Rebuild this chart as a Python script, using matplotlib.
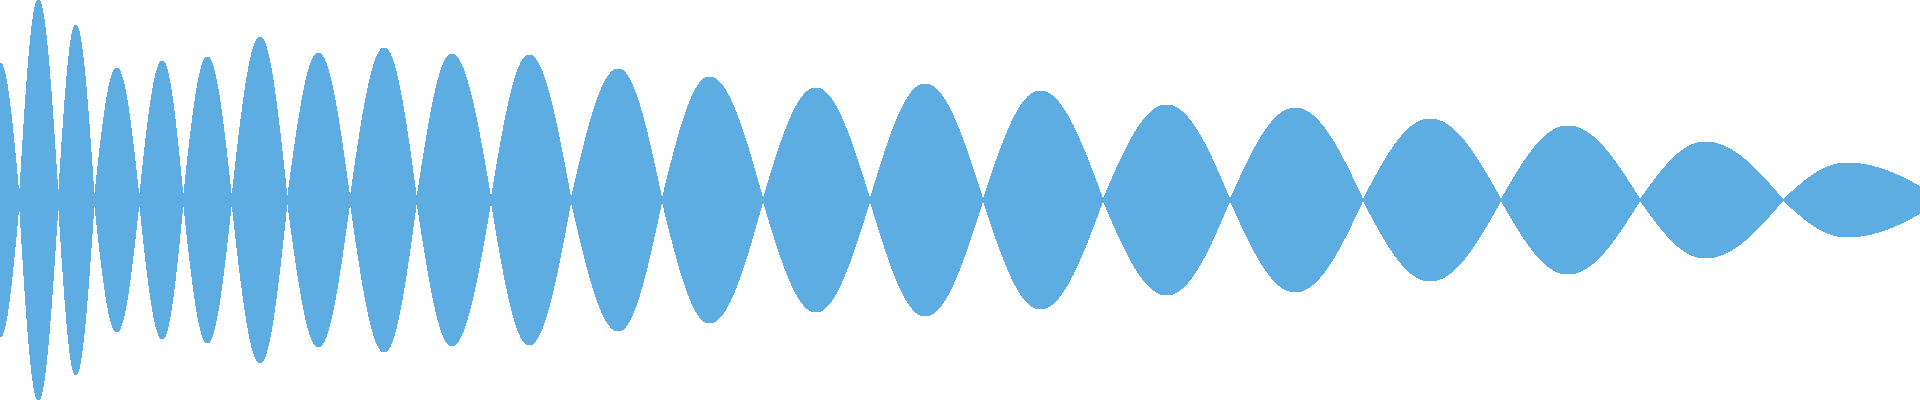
import matplotlib
matplotlib.use("Agg")
import matplotlib.pyplot as plt
import numpy as np

# zero crossings of the wave (x runs 0..1920 across the picture)
crossings = [-20, 19.3, 58.3, 94.3, 139.3, 183.3, 231.7, 287.3, 350, 416.7,
             491, 571, 662, 763, 870, 983, 1103, 1230, 1363, 1501, 1640,
             1783, 1942]
# where each lobe reaches its peak
peak_x = [0, 38.3, 75.7, 116.7, 162.3, 207.3, 260, 318.3, 384.3, 451.7,
          529, 618.3, 709.3, 815.7, 925, 1040, 1166.7, 1295, 1430, 1567.7,
          1705, 1846.7]
# peak height of each lobe (half of the full height, axis spans -200..200)
peaks = [137, 200, 175, 132, 139, 143, 163, 147, 152, 146,
         145, 131, 123, 112, 116, 109, 95, 92, 81, 74, 58, 37]

fill_color = "#5DADE2"

# each lobe: quarter sine up to its peak, quarter sine back down
xs = []
ys = []
for i in range(len(peaks)):
    a, p, b = crossings[i], peak_x[i], crossings[i + 1]
    t = np.linspace(0, 1, 60)
    xs.append(a + (p - a) * t)
    ys.append(peaks[i] * np.sin(np.pi / 2 * t))
    xs.append(p + (b - p) * t[1:])
    ys.append(peaks[i] * np.cos(np.pi / 2 * t[1:]))
x = np.concatenate(xs)
y = np.concatenate(ys)

fig = plt.figure(figsize=(19.2, 4), dpi=100)
ax = fig.add_axes([0, 0, 1, 1])
ax.fill_between(x, -y, y, color=fill_color, linewidth=0, antialiased=False)
ax.set_xlim(0, 1920)
ax.set_ylim(-200, 200)
ax.axis("off")

fig.savefig("out.png", dpi=100, facecolor="white")
